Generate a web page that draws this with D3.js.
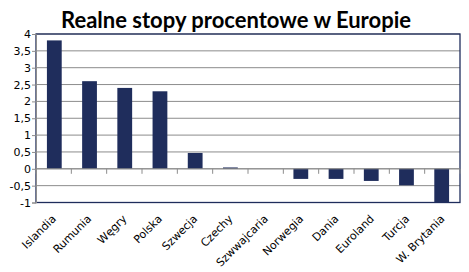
<!DOCTYPE html>
<html>
<head>
<meta charset="utf-8">
<script src="https://cdn.jsdelivr.net/npm/d3@7"></script>
<style>
  body { margin: 0; background: #fff; }
  svg { display: block; }
</style>
</head>
<body>
<svg id="chart" width="469" height="272"></svg>
<script>
// dane
let countries = ['Islandia', 'Rumunia', 'Węgry', 'Polska', 'Szwecja', 'Czechy', 'Szwwajcaria',
    'Norwegia', 'Dania', 'Euroland', 'Turcja', 'W. Brytania'];
let rates = [3.81, 2.6, 2.4, 2.3, 0.47, 0.04, 0, -0.3, -0.3, -0.36, -0.49, -1];
let yTicks = [-1, -0.5, 0, 0.5, 1, 1.5, 2, 2.5, 3, 3.5, 4];

let svg = d3.select('#chart');
let mLeft = 36, mRight = 460, mTop = 34, mBottom = 202.5;
let barColor = '#1f2d5c';
let font = 'Tahoma, "DejaVu Sans", sans-serif';

//tytuł
svg.append('text')
    .attr('x', 236)
    .attr('y', 28)
    .attr('text-anchor', 'middle')
    .attr('font-family', 'Lato, "Open Sans", sans-serif')
    .attr('font-weight', 'bold')
    .attr('font-size', 22)
    .attr('fill', '#000')
    .text('Realne stopy procentowe w Europie');

let x = d3.scaleBand().domain(countries).range([mLeft, mRight]).paddingInner(0.58).paddingOuter(0.31);
let xb = d3.scaleBand().domain(countries).range([mLeft, mRight]);
let y = d3.scaleLinear().domain([-1, 4]).range([mBottom, mTop]);

// siatka
svg.append('g').selectAll('line').data(yTicks).enter()
    .append('line')
    .attr('x1', mLeft).attr('x2', mRight)
    .attr('y1', d => y(d)).attr('y2', d => y(d))
    .attr('stroke', '#8c8c8c')
    .attr('stroke-width', 1);

// ramka
svg.append('rect')
    .attr('x', mLeft).attr('y', mTop)
    .attr('width', mRight - mLeft).attr('height', mBottom - mTop)
    .attr('fill', 'none')
    .attr('stroke', '#1f2d5c')
    .attr('stroke-width', 1.3);

// słupki
svg.append('g').selectAll('rect').data(rates).enter()
    .append('rect')
    .attr('x', (d, i) => x(countries[i]))
    .attr('width', x.bandwidth())
    .attr('y', d => y(Math.max(0, d)))
    .attr('height', d => Math.abs(y(d) - y(0)))
    .attr('fill', barColor);

// oś Y
let yAxis = svg.append('g')
    .attr('transform', `translate(${mLeft},0)`)
    .call(d3.axisLeft(y).tickValues(yTicks).tickSize(4).tickFormat(d => String(d).replace('.', ',')));
yAxis.select('.domain').attr('stroke', '#8c8c8c');
yAxis.selectAll('.tick line').attr('stroke', '#8c8c8c');
yAxis.selectAll('text')
    .attr('font-family', font)
    .attr('font-size', 11)
    .attr('fill', '#000')
    .attr('x', -5);

// oś X na zerze
let bounds = countries.map(c => xb(c)).concat([mRight]);
svg.append('line')
    .attr('x1', mLeft).attr('x2', mRight)
    .attr('y1', y(0)).attr('y2', y(0))
    .attr('stroke', '#8c8c8c');
svg.append('g').selectAll('line').data(bounds).enter()
    .append('line')
    .attr('x1', d => d).attr('x2', d => d)
    .attr('y1', y(0)).attr('y2', y(0) + 5)
    .attr('stroke', '#8c8c8c');

// etykiety kategorii
svg.append('g').selectAll('text').data(countries).enter()
    .append('text')
    .attr('transform', d => `translate(${xb(d) + xb.bandwidth() / 2 + 3},${mBottom + 17}) rotate(-45)`)
    .attr('text-anchor', 'end')
    .attr('font-family', font)
    .attr('font-size', 11)
    .attr('fill', '#000')
    .text(d => d);
</script>
</body>
</html>
